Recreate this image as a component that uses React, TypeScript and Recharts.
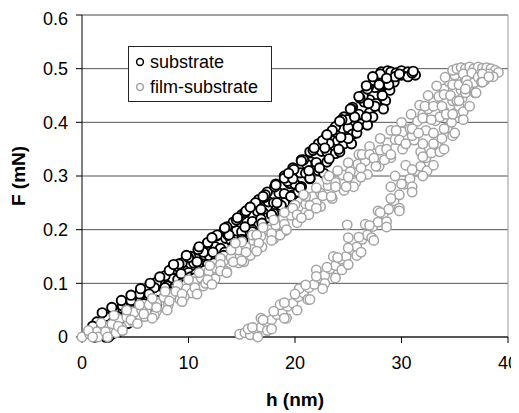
import { ScatterChart, Scatter, XAxis, YAxis, CartesianGrid, ReferenceLine, Label } from "recharts";

const substrateA = [
	[1.2, 0.0], [1.6, 0.018], [2.0, 0.012], [2.5, 0.028], [3.0, 0.03], [3.5, 0.045], [4.0, 0.04], [4.5, 0.058],
	[5.0, 0.052], [5.5, 0.07], [6.0, 0.066], [6.5, 0.082], [7.0, 0.08], [7.5, 0.097], [8.0, 0.095], [8.5, 0.11],
	[9.0, 0.107], [9.5, 0.126], [10.0, 0.12], [10.5, 0.138], [11.0, 0.136], [11.5, 0.153], [12.0, 0.15], [12.5, 0.168],
	[13.0, 0.165], [13.5, 0.184], [14.0, 0.18], [14.5, 0.198], [15.0, 0.196], [15.5, 0.215], [16.0, 0.215], [16.5, 0.234],
	[17.0, 0.232], [17.5, 0.252], [18.0, 0.25], [18.5, 0.268], [19.0, 0.267], [19.5, 0.286], [20.0, 0.285], [20.5, 0.306],
	[21.0, 0.305], [21.5, 0.326], [22.0, 0.325], [22.5, 0.346], [23.0, 0.345], [23.5, 0.366], [24.0, 0.365], [24.5, 0.388],
	[25.0, 0.39], [25.5, 0.413], [26.0, 0.415], [26.5, 0.438], [27.0, 0.442], [27.5, 0.465], [28.0, 0.47], [28.4, 0.49],
];
const substrateB = [
	[2.2, 0.0], [3.0, 0.015], [3.8, 0.025], [4.6, 0.035], [5.4, 0.045], [6.2, 0.055], [7.0, 0.068], [7.8, 0.077],
	[8.6, 0.09], [9.4, 0.1], [10.2, 0.112], [11.0, 0.122], [11.8, 0.135], [12.6, 0.145], [13.4, 0.158], [14.2, 0.17],
	[15.0, 0.182], [15.8, 0.195], [16.6, 0.208], [17.4, 0.222], [18.2, 0.236], [19.0, 0.25], [19.8, 0.265], [20.6, 0.28],
	[21.4, 0.295], [22.2, 0.31], [23.0, 0.326], [23.8, 0.342], [24.6, 0.36], [25.4, 0.378], [26.2, 0.397], [27.0, 0.418],
	[27.6, 0.435], [28.2, 0.452], [28.7, 0.468], [29.2, 0.48], [29.7, 0.488], [30.3, 0.49], [30.9, 0.492], [31.3, 0.488],
];
const substrateC = [
	[1.4, 0.028], [2.2, 0.038], [3.0, 0.048], [3.8, 0.058], [4.6, 0.068], [5.4, 0.08], [6.2, 0.09], [7.0, 0.102],
	[7.8, 0.114], [8.6, 0.126], [9.4, 0.138], [10.2, 0.15], [11.0, 0.162], [11.8, 0.175], [12.6, 0.188], [13.4, 0.2],
	[14.2, 0.214], [15.0, 0.228], [15.8, 0.242], [16.6, 0.256], [17.4, 0.27], [18.2, 0.285], [19.0, 0.3], [19.8, 0.315],
	[20.6, 0.33], [21.4, 0.345], [22.2, 0.36], [23.0, 0.375], [23.8, 0.392], [24.6, 0.41], [25.4, 0.428], [26.2, 0.448],
	[26.9, 0.466], [27.5, 0.482], [28.1, 0.494], [28.7, 0.496],
];
const substrateD = [
	[2.8, 0.005], [4.2, 0.05], [5.8, 0.062], [6.8, 0.092], [8.2, 0.085], [9.1, 0.13], [10.7, 0.118], [11.4, 0.158],
	[12.9, 0.142], [13.7, 0.19], [14.8, 0.17], [15.3, 0.232], [16.8, 0.22], [17.1, 0.26], [18.7, 0.24], [19.3, 0.29],
	[20.3, 0.27], [21.1, 0.322], [22.7, 0.305], [23.2, 0.36], [24.2, 0.345], [24.9, 0.405], [25.8, 0.38], [26.4, 0.45],
	[27.3, 0.41], [27.8, 0.478], [28.5, 0.44], [28.9, 0.46], [29.0, 0.494], [29.5, 0.492], [30.0, 0.496], [30.6, 0.494],
	[29.3, 0.475], [28.3, 0.425], [26.8, 0.395], [25.3, 0.36], [16.0, 0.2], [18.0, 0.23],
];
const substrateE = [
	[1.0, 0.02], [1.9, 0.045], [2.8, 0.055], [3.7, 0.068], [4.6, 0.078], [5.5, 0.09], [6.4, 0.1], [7.3, 0.112],
	[8.2, 0.124], [9.1, 0.136], [10.0, 0.148], [10.9, 0.163], [11.8, 0.176], [12.7, 0.19], [13.6, 0.205], [14.5, 0.218],
	[15.4, 0.235], [16.3, 0.25], [17.2, 0.265], [18.1, 0.28], [19.0, 0.296], [19.9, 0.312], [20.8, 0.33], [21.7, 0.348],
	[22.6, 0.366], [23.5, 0.385], [24.4, 0.405], [25.3, 0.425], [26.1, 0.445], [26.8, 0.462], [27.4, 0.478], [28.0, 0.49],
];
const substrateF = [
	[2.5, 0.0], [3.4, 0.01], [4.3, 0.025], [5.2, 0.035], [6.1, 0.048], [7.0, 0.06], [7.9, 0.075], [8.8, 0.085],
	[9.7, 0.098], [10.6, 0.11], [11.5, 0.124], [12.4, 0.138], [13.3, 0.152], [14.2, 0.166], [15.1, 0.18], [16.0, 0.196],
	[16.9, 0.212], [17.8, 0.228], [18.7, 0.245], [19.6, 0.262], [20.5, 0.278], [21.4, 0.296], [22.3, 0.315], [23.2, 0.332],
	[24.1, 0.35], [25.0, 0.37], [25.9, 0.392], [26.7, 0.41], [27.5, 0.43], [28.2, 0.45], [28.8, 0.47], [29.4, 0.485],
	[30.0, 0.488], [30.6, 0.485], [31.0, 0.492],
];
const substrateG = [
	[1.8, 0.005], [3.3, 0.038], [4.8, 0.05], [6.3, 0.08], [7.8, 0.092], [9.3, 0.118], [10.8, 0.14], [12.3, 0.158],
	[13.8, 0.19], [15.3, 0.205], [16.8, 0.238], [18.3, 0.25], [19.8, 0.295], [21.3, 0.31], [22.8, 0.352], [24.3, 0.372],
	[25.6, 0.41], [26.9, 0.435], [27.9, 0.47], [28.6, 0.482], [29.8, 0.49], [31.1, 0.495],
];
const substrateH = [
	[8.6, 0.135], [9.8, 0.152], [11.0, 0.168], [12.2, 0.185], [13.4, 0.203], [14.6, 0.222], [15.8, 0.242], [17.0, 0.262],
	[18.2, 0.283], [19.4, 0.305], [20.6, 0.328], [21.8, 0.352], [23.0, 0.377], [24.2, 0.402], [25.2, 0.425], [26.0, 0.448],
	[26.7, 0.468], [27.3, 0.485],
];

// film-substrate: left branch, top plateau, right branch
const filmLeftA = [
	[0.0, 0.0], [0.7, 0.006], [1.4, 0.01], [2.1, 0.02], [2.8, 0.024], [3.5, 0.033], [4.2, 0.037], [4.9, 0.046],
	[5.6, 0.05], [6.3, 0.06], [7.0, 0.063], [7.7, 0.074], [8.4, 0.078], [9.1, 0.088], [9.8, 0.09], [10.5, 0.103],
	[11.2, 0.11], [11.9, 0.122], [12.6, 0.128], [13.3, 0.142], [14.0, 0.148], [14.7, 0.162], [15.4, 0.168], [16.1, 0.18],
	[16.8, 0.188], [17.5, 0.2], [18.2, 0.208], [18.9, 0.222], [19.6, 0.227], [20.3, 0.242], [21.0, 0.248], [21.7, 0.262],
	[22.4, 0.268], [23.1, 0.282], [23.8, 0.288], [24.5, 0.302], [25.2, 0.308], [25.9, 0.322], [26.6, 0.328], [27.3, 0.342],
	[28.0, 0.348], [28.7, 0.362], [29.4, 0.368], [30.1, 0.382], [30.8, 0.388], [31.5, 0.402], [32.0, 0.415], [32.5, 0.425],
	[33.0, 0.438], [33.5, 0.448], [34.0, 0.462], [34.5, 0.475], [35.0, 0.488], [35.4, 0.498],
];
const filmLeftB = [
	[1.5, 0.0], [2.6, 0.008], [3.7, 0.018], [4.8, 0.028], [5.9, 0.038], [7.0, 0.048], [8.1, 0.06], [9.2, 0.07],
	[10.3, 0.082], [11.4, 0.095], [12.5, 0.108], [13.6, 0.122], [14.7, 0.138], [15.8, 0.152], [16.9, 0.168], [18.0, 0.183],
	[19.1, 0.198], [20.2, 0.213], [21.3, 0.228], [22.4, 0.243], [23.5, 0.258], [24.6, 0.273], [25.7, 0.288], [26.8, 0.303],
	[27.9, 0.318], [29.0, 0.334], [30.1, 0.35], [31.2, 0.367], [32.3, 0.385], [33.2, 0.403], [34.0, 0.42], [34.8, 0.44],
	[35.6, 0.46], [36.3, 0.478],
];
const filmLeftC = [
	[0.6, 0.012], [1.8, 0.026], [3.0, 0.04], [4.2, 0.05], [5.4, 0.06], [6.6, 0.072], [7.8, 0.085], [9.0, 0.097],
	[10.0, 0.107], [11.0, 0.12], [12.0, 0.133], [13.0, 0.147], [14.0, 0.162], [15.0, 0.177], [16.0, 0.19], [17.0, 0.204],
	[18.0, 0.218], [19.0, 0.232], [20.0, 0.246], [21.0, 0.262], [22.0, 0.278], [23.0, 0.294], [24.0, 0.31], [25.0, 0.325],
	[26.0, 0.34], [27.0, 0.355], [28.0, 0.37], [29.0, 0.385], [30.0, 0.4], [30.9, 0.415], [31.7, 0.432], [32.5, 0.45],
	[33.3, 0.468], [34.1, 0.484], [34.8, 0.497],
];
const filmLeftD = [
	[3.2, 0.008], [6.8, 0.04], [8.8, 0.085], [11.6, 0.1], [13.0, 0.135], [15.2, 0.14], [16.4, 0.19], [18.6, 0.19],
	[19.8, 0.24], [22.0, 0.25], [23.2, 0.3], [25.5, 0.28], [26.3, 0.34], [28.4, 0.33], [29.5, 0.385], [31.0, 0.375],
	[32.2, 0.43], [33.6, 0.41], [14.4, 0.175], [20.8, 0.265], [27.0, 0.34], [9.6, 0.075],
];
const filmLeftE = [
	[1.0, 0.0], [2.2, 0.01], [3.4, 0.02], [4.6, 0.032], [5.8, 0.043], [7.0, 0.055], [8.2, 0.067], [9.4, 0.08],
	[10.6, 0.092], [11.8, 0.107], [13.0, 0.123], [14.2, 0.14], [15.4, 0.158], [16.6, 0.175], [17.8, 0.193], [19.0, 0.21],
	[20.2, 0.228], [21.4, 0.245], [22.6, 0.263], [23.8, 0.28], [25.0, 0.298], [26.2, 0.315], [27.4, 0.333], [28.6, 0.35],
	[29.8, 0.367], [31.0, 0.388], [32.0, 0.408], [33.0, 0.43], [34.0, 0.452], [34.8, 0.47],
];
const filmLeftF = [
	[2.4, 0.0], [3.8, 0.012], [5.2, 0.025], [6.6, 0.035], [8.0, 0.05], [9.4, 0.066], [10.8, 0.08], [12.2, 0.098],
	[13.6, 0.12], [15.0, 0.142], [16.4, 0.16], [17.8, 0.18], [19.2, 0.2], [20.6, 0.222], [22.0, 0.24], [23.4, 0.262],
	[24.8, 0.28], [26.2, 0.298], [27.6, 0.318], [29.0, 0.34], [30.4, 0.36], [31.6, 0.38], [32.8, 0.405], [33.8, 0.43],
	[34.6, 0.45], [35.4, 0.47], [36.0, 0.48],
];
const filmTop = [
	[35.2, 0.5], [35.6, 0.502], [36.0, 0.5], [36.4, 0.503], [36.8, 0.5], [37.2, 0.503], [37.6, 0.501], [38.0, 0.502],
	[38.4, 0.5], [38.8, 0.497], [39.1, 0.493], [35.8, 0.49], [36.6, 0.492], [37.4, 0.49], [38.2, 0.49], [38.6, 0.485],
	[37.8, 0.478], [36.1, 0.478],
];
const filmRightA = [
	[14.8, 0.005], [15.3, 0.008], [15.8, 0.004], [16.3, 0.014], [16.8, 0.018], [17.3, 0.028], [17.8, 0.032], [18.3, 0.042],
	[18.8, 0.047], [19.3, 0.057], [19.8, 0.063], [20.3, 0.075], [20.8, 0.082], [21.3, 0.092], [21.8, 0.098], [22.3, 0.11],
	[22.8, 0.115], [23.3, 0.127], [23.8, 0.133], [24.3, 0.145], [24.8, 0.15], [25.3, 0.163], [25.8, 0.168], [26.3, 0.182],
	[26.8, 0.19], [27.3, 0.206], [27.8, 0.214], [28.3, 0.23], [28.8, 0.238], [29.3, 0.254], [29.8, 0.265], [30.3, 0.285],
	[30.8, 0.295], [31.3, 0.31], [31.8, 0.318], [32.3, 0.334], [32.8, 0.343], [33.3, 0.358], [33.8, 0.37], [34.3, 0.39],
	[34.7, 0.4], [35.1, 0.418], [35.4, 0.43], [35.7, 0.445], [36.0, 0.455], [36.4, 0.466], [36.8, 0.474], [37.2, 0.484],
	[37.6, 0.49],
];
const filmRightB = [
	[15.6, 0.015], [16.8, 0.035], [17.4, 0.012], [18.6, 0.06], [19.2, 0.035], [20.4, 0.09], [21.2, 0.07], [22.0, 0.125],
	[22.8, 0.1], [23.6, 0.15], [24.4, 0.125], [25.0, 0.185], [25.8, 0.152], [26.6, 0.21], [27.2, 0.185], [27.8, 0.235],
	[28.6, 0.215], [29.0, 0.28], [29.8, 0.24], [30.4, 0.32], [31.0, 0.28], [31.8, 0.345], [32.4, 0.31], [33.0, 0.38],
	[33.6, 0.345], [34.2, 0.415], [34.8, 0.375], [35.2, 0.44], [35.8, 0.42], [36.2, 0.47], [36.9, 0.455], [37.5, 0.475],
	[24.9, 0.209], [29.4, 0.3], [32.0, 0.36],
];
const filmRightE = [
	[16.0, 0.018], [17.0, 0.032], [18.0, 0.048], [19.0, 0.064], [20.0, 0.08], [21.0, 0.097], [22.0, 0.113], [23.0, 0.13],
	[24.0, 0.148], [25.0, 0.166], [26.0, 0.186], [27.0, 0.208], [28.0, 0.232], [29.0, 0.258], [30.0, 0.285], [31.0, 0.312],
	[32.0, 0.336], [33.0, 0.36], [34.0, 0.388], [34.8, 0.415], [35.4, 0.44], [36.0, 0.462],
];
const filmRightF = [
	[16.5, 0.0], [17.8, 0.015], [19.0, 0.035], [20.2, 0.05], [21.4, 0.07], [22.6, 0.09], [23.8, 0.11], [25.0, 0.135],
	[26.2, 0.158], [27.4, 0.18], [28.6, 0.205], [29.8, 0.235], [31.0, 0.27], [32.0, 0.3], [33.0, 0.32], [34.0, 0.35],
	[35.0, 0.38], [35.8, 0.405], [36.4, 0.43], [37.0, 0.455], [37.6, 0.475], [38.2, 0.485],
];

const xTicks = [0, 10, 20, 30, 40];
const yTicks = [0, 0.1, 0.2, 0.3, 0.4, 0.5, 0.6];

const toPoints = (...sets: number[][][]) => sets.flat().map(([h, F]) => ({ h, F }));

const substrate = toPoints(substrateA, substrateB, substrateC, substrateD, substrateE, substrateF, substrateG, substrateH);
const film = toPoints(
	filmLeftA, filmLeftB, filmLeftC, filmLeftD, filmLeftE, filmLeftF,
	filmTop,
	filmRightA, filmRightB, filmRightE, filmRightF,
);

const FONT = "Arial, 'Liberation Sans', sans-serif";
const GREY = "#a3a3a3";

const ring = (stroke: string, width: number) => (props: any) => (
	<circle cx={props.cx} cy={props.cy} r={4.7} fill="#fff" stroke={stroke} strokeWidth={width} />
);

export default function App() {
	return (
		<div style={{ position: "relative", width: 511, height: 405, fontFamily: FONT }}>
			<ScatterChart width={511} height={405} margin={{ top: 7, right: 11, left: 0, bottom: 0 }}>
				<CartesianGrid vertical={false} stroke="#555" />
				<XAxis
					type="number"
					dataKey="h"
					domain={[0, 40]}
					ticks={xTicks}
					height={76}
					axisLine={{ stroke: "#000" }}
					tickLine={{ stroke: "#000" }}
					tickSize={6}
					tickMargin={13}
					tick={{ fill: "#000", fontSize: 18, fontFamily: FONT }}>
					<Label
						content={(p: any) => (
							<text
								x={p.viewBox.x + p.viewBox.width / 2}
								y={p.viewBox.y + 69}
								textAnchor="middle"
								fontSize={19}
								fontWeight="bold"
								fontFamily={FONT}
								fill="#000">
								h (nm)
							</text>
						)}
					/>
				</XAxis>
				<YAxis
					type="number"
					dataKey="F"
					domain={[0, 0.6]}
					ticks={yTicks}
					width={74}
					axisLine={{ stroke: "#000" }}
					tickLine={{ stroke: "#000" }}
					tickSize={6}
					tickMargin={8}
					tickFormatter={(v: number) => (v === 0 ? "0" : v.toFixed(1))}
					tick={{ fill: "#000", fontSize: 18, fontFamily: FONT }}>
					<Label
						content={(p: any) => {
							const cx = 10;
							const cy = p.viewBox.y + p.viewBox.height / 2;
							return (
								<text
									x={cx}
									y={cy}
									transform={`rotate(-90 ${cx} ${cy})`}
									textAnchor="middle"
									dominantBaseline="central"
									fontSize={19}
									fontWeight="bold"
									fontFamily={FONT}
									fill="#000">
									F (mN)
								</text>
							);
						}}
					/>
				</YAxis>
				<ReferenceLine y={0.6} stroke="#999" />
				<ReferenceLine x={40} stroke="#999" />
				<Scatter data={substrate} isAnimationActive={false} shape={ring("#000", 1.9)} />
				<Scatter data={film} isAnimationActive={false} shape={ring(GREY, 1.5)} />
			</ScatterChart>
			<div
				style={{
					position: "absolute",
					left: 120,
					top: 38,
					width: 144,
					height: 56,
					boxSizing: "border-box",
					border: "1px solid #222",
					background: "#fff",
					fontSize: 18,
					lineHeight: "21px",
					color: "#000",
				}}>
				{[
					{ name: "substrate", color: "#000" },
					{ name: "film-substrate", color: GREY },
				].map((s, i) => (
					<div
						key={s.name}
						style={{ position: "absolute", left: 5, top: 4.5 + i * 25, height: 21, display: "flex", alignItems: "center", whiteSpace: "nowrap" }}>
						<svg width={12} height={12} style={{ marginRight: 4 }}>
							<circle cx={6} cy={6} r={3.4} fill="#fff" stroke={s.color} strokeWidth={1.5} />
						</svg>
						<span>{s.name}</span>
					</div>
				))}
			</div>
		</div>
	);
}
